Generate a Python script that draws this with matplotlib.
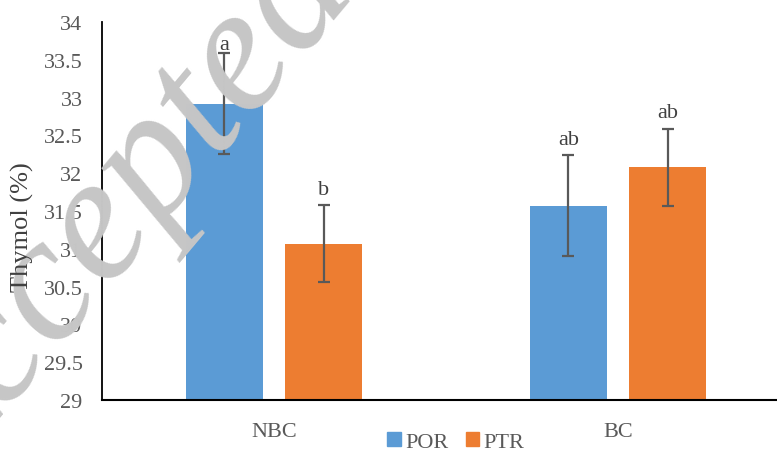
import matplotlib
matplotlib.use("Agg")
import matplotlib.pyplot as plt
import numpy as np
from matplotlib.patches import Patch

categories = ["NBC", "BC"]
series_names = ["POR", "PTR"]
por_values = [32.92, 31.57]
ptr_values = [31.07, 32.08]
por_err = [0.67, 0.67]
ptr_err = [0.51, 0.51]
por_letters = ["a", "ab"]
ptr_letters = ["b", "ab"]
y_ticks = [29, 29.5, 30, 30.5, 31, 31.5, 32, 32.5, 33, 33.5, 34]
y_tick_labels = ["29", "29.5", "30", "30.5", "31", "31.5", "32", "32.5", "33", "33.5", "34"]

plt.rcParams['font.family'] = 'serif'
plt.rcParams['font.serif'] = ['Liberation Serif', 'DejaVu Serif']
FONT = 'Liberation Serif'

W, H = 777, 452
fig = plt.figure(figsize=(W / 100, H / 100), dpi=100)

# watermark
fig.text(-63 / W, 1 - 506 / H, "Accepted", fontsize=130, style='italic',
         family=FONT, color='#c6c6c6', rotation=50, rotation_mode='anchor',
         ha='left', va='baseline', zorder=0)

ax = fig.add_axes([102 / W, 1 - 401 / H, (790 - 102) / W, (401 - 23) / H])
ax.patch.set_alpha(0)

blue = '#5B9BD5'
orange = '#ED7D31'
errc = '#595959'
x = np.arange(len(categories))
off = 0.144
bw = 0.224

ax.bar(x - off, por_values, bw, color=blue, zorder=2)
ax.bar(x + off, ptr_values, bw, color=orange, zorder=2)
ax.errorbar(x - off, por_values, yerr=por_err, fmt='none', ecolor=errc,
            elinewidth=1.6, capsize=4.5, capthick=1.6, zorder=3)
ax.errorbar(x + off, ptr_values, yerr=ptr_err, fmt='none', ecolor=errc,
            elinewidth=1.6, capsize=4.5, capthick=1.6, zorder=3)

label_gaps_por = [3, 8]
label_gaps_ptr = [8, 8]
for i in range(len(categories)):
    ax.annotate(por_letters[i], (x[i] - off, por_values[i] + por_err[i]),
                xytext=(0, label_gaps_por[i]), textcoords='offset points',
                ha='center', va='baseline', fontsize=16, color='#404040', family=FONT)
    ax.annotate(ptr_letters[i], (x[i] + off, ptr_values[i] + ptr_err[i]),
                xytext=(0, label_gaps_ptr[i]), textcoords='offset points',
                ha='center', va='baseline', fontsize=16, color='#404040', family=FONT)

ax.set_xlim(-0.5, 1.5)
ax.set_ylim(29, 34)
ax.set_yticks(y_ticks)
ax.set_yticklabels(y_tick_labels, family=FONT, fontsize=16, color='#595959')
ax.set_xticks(x)
ax.set_xticklabels(categories, family=FONT, fontsize=16, color='#595959')
ax.tick_params(axis='both', length=0)
ax.tick_params(axis='x', pad=16)
ax.tick_params(axis='y', pad=14)
for s in ['top', 'right']:
    ax.spines[s].set_visible(False)
ax.spines['left'].set_color('black')
ax.spines['left'].set_linewidth(1.3)
ax.spines['bottom'].set_color('black')
ax.spines['bottom'].set_linewidth(1.5)

fig.text(22 / W, 1 - 227 / H, "Thymol (%)", rotation=90, fontsize=19,
         color='#404040', ha='center', va='center', family=FONT)

handles = [Patch(color=blue), Patch(color=orange)]
fig.legend(handles, series_names, loc='center', bbox_to_anchor=(456 / W, 1 - 443 / H),
           ncol=2, frameon=False, prop={'family': FONT, 'size': 16},
           handlelength=0.6, handleheight=0.6,
           handletextpad=0.2, columnspacing=0.8, labelcolor='#595959',
           borderpad=0, borderaxespad=0)

fig.savefig("out.png", dpi=100)
